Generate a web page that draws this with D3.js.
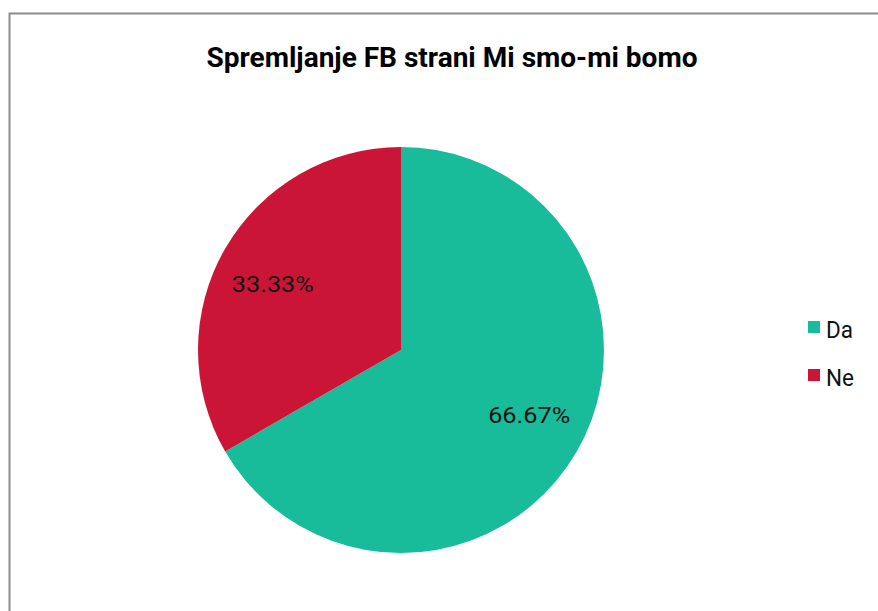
<!DOCTYPE html>
<html>
<head>
<meta charset="utf-8">
<script src="https://cdn.jsdelivr.net/npm/d3@7"></script>
<style>
html,body{margin:0;padding:0;background:#fff;}
svg{display:block;}
text{font-family:Roboto, "DejaVu Sans", sans-serif;}
</style>
</head>
<body>
<svg id="chart" width="878" height="611"></svg>
<script>
const title = "Spremljanje FB strani Mi smo-mi bomo";
const categories = ["Da", "Ne"];
const values = [66.67, 33.33];
const labels = ["66.67%", "33.33%"];
const colors = ["#19bc9a", "#cb1537"];

const svg = d3.select("#chart");

// frame
svg.append("rect").attr("x", 9.5).attr("y", 13.5).attr("width", 900).attr("height", 700)
  .attr("fill", "#fff").attr("stroke", "#8c8c8c").attr("stroke-width", 2);

svg.append("text").attr("x", 452).attr("y", 67).attr("text-anchor", "middle")
  .attr("font-size", 28).attr("font-weight", "bold").attr("fill", "#000")
  .attr("textLength", 491).attr("lengthAdjust", "spacingAndGlyphs")
  .text(title);

const cx = 401, cy = 350, r = 203;
const pie = d3.pie().sort(null).value(d => d.v);
const data = pie(categories.map((c, i) => ({c, v: values[i], label: labels[i], color: colors[i]})));
const arc = d3.arc().innerRadius(0).outerRadius(r);
const g = svg.append("g").attr("transform", `translate(${cx},${cy})`);
g.selectAll("path").data(data).join("path")
  .attr("d", arc).attr("fill", d => d.data.color);

const lr = 148, yScale = 131 / 148;
const labelArc = d3.arc().innerRadius(lr).outerRadius(lr);
g.selectAll("text.lbl").data(data).join("text").attr("class", "lbl")
  .attr("transform", d => { const p = labelArc.centroid(d); return `translate(${p[0]},${p[1] * yScale})`; })
  .attr("text-anchor", "middle").attr("dy", "0.36em")
  .attr("font-size", 22).attr("fill", "#111")
  .attr("textLength", 82).attr("lengthAdjust", "spacingAndGlyphs")
  .text(d => d.data.label);

const leg = svg.append("g");
const ly = d3.scalePoint().domain(categories).range([326, 374]);
categories.forEach((c, i) => {
  leg.append("rect").attr("x", 808).attr("y", ly(c) - 5).attr("width", 12).attr("height", 12).attr("fill", colors[i]);
  leg.append("text").attr("x", 826).attr("y", ly(c) + 12).attr("font-size", 24).attr("fill", "#111")
    .attr("textLength", c === "Da" ? 27 : 28).attr("lengthAdjust", "spacingAndGlyphs").text(c);
});
</script>
</body>
</html>
